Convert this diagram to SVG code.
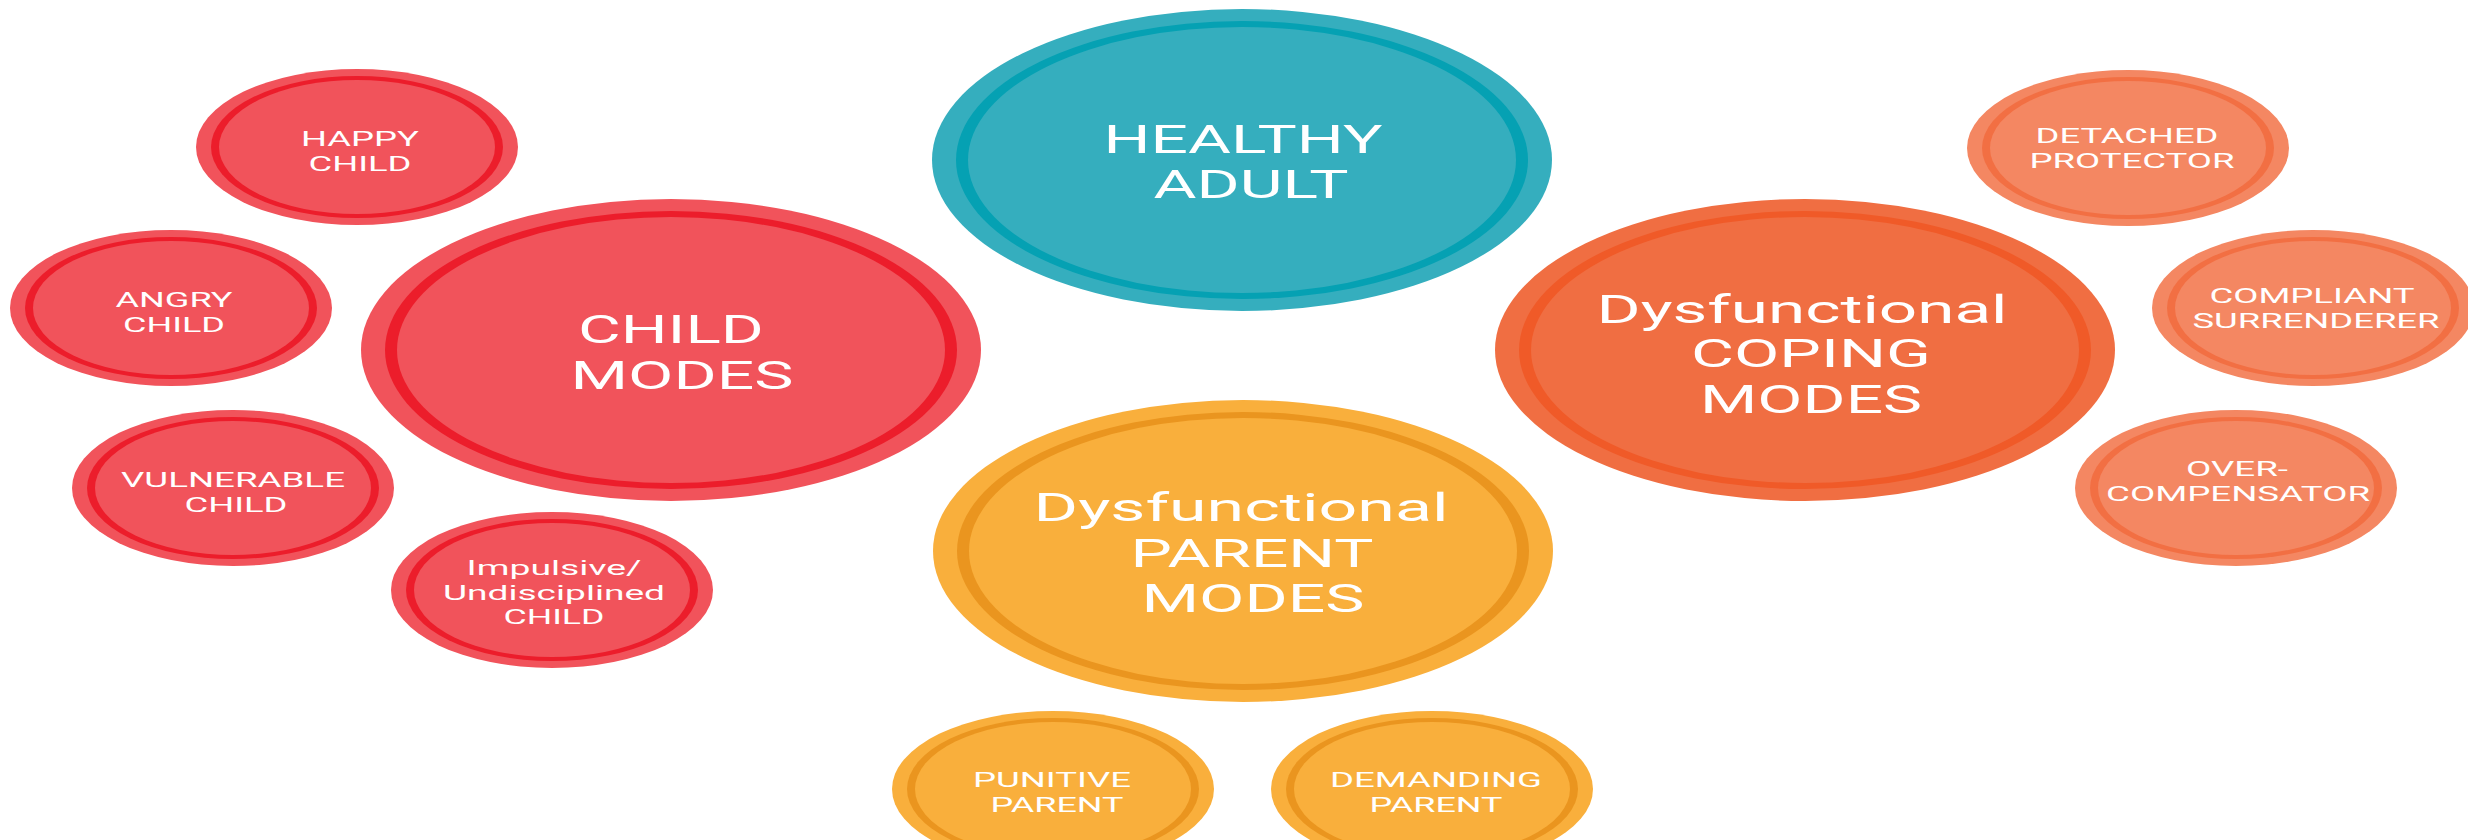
<svg xmlns="http://www.w3.org/2000/svg" width="2468" height="840" viewBox="0 0 2468 840">
  <style>
    .bg { fill: #ffffff; }
    /* each bubble: outer disc, darker ring, inner disc */
    .teal .o, .teal .i { fill: #35aebe; }
    .teal .r { fill: #05a1b3; }
    .red .o, .red .i { fill: #f1535b; }
    .red .r { fill: #ec1d2b; }
    .yel .o, .yel .i { fill: #f9af3c; }
    .yel .r { fill: #ea951f; }
    .org .o, .org .i { fill: #f06e42; }
    .org .r { fill: #f05a28; }
    .lor .o, .lor .i { fill: #f48762; }
    .lor .r { fill: #f26f43; }
    text { fill: #ffffff; font-family: Roboto, "Liberation Sans", Arial, sans-serif; text-anchor: middle; }
    .big { font-size: 38px; }
    .sm { font-size: 21px; }
  </style>

  <rect class="bg" x="0" y="0" width="2468" height="840"/>

  <!-- main mode bubbles -->
  <g id="healthy-adult" class="teal">
    <ellipse class="o" cx="1242" cy="160" rx="310" ry="151"/>
    <ellipse class="r" cx="1242" cy="160" rx="286" ry="139"/>
    <ellipse class="i" cx="1242" cy="160" rx="274" ry="133"/>
    <text class="big" x="1243" y="153" textLength="279" lengthAdjust="spacingAndGlyphs">HEALTHY</text>
    <text class="big" x="1251" y="198" textLength="195" lengthAdjust="spacingAndGlyphs">ADULT</text>
  </g>

  <g id="child-modes" class="red">
    <ellipse class="o" cx="671" cy="350" rx="310" ry="151"/>
    <ellipse class="r" cx="671" cy="350" rx="286" ry="139"/>
    <ellipse class="i" cx="671" cy="350" rx="274" ry="133"/>
    <text class="big" x="671" y="343" textLength="186" lengthAdjust="spacingAndGlyphs">CHILD</text>
    <text class="big" x="682" y="389" textLength="223" lengthAdjust="spacingAndGlyphs">MODES</text>
  </g>

  <g id="parent-modes" class="yel">
    <ellipse class="o" cx="1243" cy="551" rx="310" ry="151"/>
    <ellipse class="r" cx="1243" cy="551" rx="286" ry="139"/>
    <ellipse class="i" cx="1243" cy="551" rx="274" ry="133"/>
    <text class="big" x="1241" y="521" textLength="415" lengthAdjust="spacingAndGlyphs">Dysfunctional</text>
    <text class="big" x="1252" y="567" textLength="243" lengthAdjust="spacingAndGlyphs">PARENT</text>
    <text class="big" x="1253" y="612" textLength="223" lengthAdjust="spacingAndGlyphs">MODES</text>
  </g>

  <g id="coping-modes" class="org">
    <ellipse class="o" cx="1805" cy="350" rx="310" ry="151"/>
    <ellipse class="r" cx="1805" cy="350" rx="286" ry="139"/>
    <ellipse class="i" cx="1805" cy="350" rx="274" ry="133"/>
    <text class="big" x="1802" y="323" textLength="411" lengthAdjust="spacingAndGlyphs">Dysfunctional</text>
    <text class="big" x="1811" y="367" textLength="240" lengthAdjust="spacingAndGlyphs">COPING</text>
    <text class="big" x="1811" y="413" textLength="222" lengthAdjust="spacingAndGlyphs">MODES</text>
  </g>

  <!-- child sub-modes -->
  <g id="happy-child" class="red">
    <ellipse class="o" cx="357" cy="147" rx="161" ry="78"/>
    <ellipse class="r" cx="357" cy="147" rx="146" ry="71"/>
    <ellipse class="i" cx="357" cy="147" rx="138" ry="67"/>
    <text class="sm" x="360" y="146" textLength="118" lengthAdjust="spacingAndGlyphs">HAPPY</text>
    <text class="sm" x="360" y="171" textLength="103" lengthAdjust="spacingAndGlyphs">CHILD</text>
  </g>

  <g id="angry-child" class="red">
    <ellipse class="o" cx="171" cy="308" rx="161" ry="78"/>
    <ellipse class="r" cx="171" cy="308" rx="146" ry="71"/>
    <ellipse class="i" cx="171" cy="308" rx="138" ry="67"/>
    <text class="sm" x="174" y="307" textLength="117" lengthAdjust="spacingAndGlyphs">ANGRY</text>
    <text class="sm" x="174" y="332" textLength="102" lengthAdjust="spacingAndGlyphs">CHILD</text>
  </g>

  <g id="vulnerable-child" class="red">
    <ellipse class="o" cx="233" cy="488" rx="161" ry="78"/>
    <ellipse class="r" cx="233" cy="488" rx="146" ry="71"/>
    <ellipse class="i" cx="233" cy="488" rx="138" ry="67"/>
    <text class="sm" x="233" y="487" textLength="224" lengthAdjust="spacingAndGlyphs">VULNERABLE</text>
    <text class="sm" x="236" y="512" textLength="103" lengthAdjust="spacingAndGlyphs">CHILD</text>
  </g>

  <g id="impulsive-child" class="red">
    <ellipse class="o" cx="552" cy="590" rx="161" ry="78"/>
    <ellipse class="r" cx="552" cy="590" rx="146" ry="71"/>
    <ellipse class="i" cx="552" cy="590" rx="138" ry="67"/>
    <text class="sm" x="554" y="575" textLength="175" lengthAdjust="spacingAndGlyphs">Impulsive/</text>
    <text class="sm" x="554" y="600" textLength="222" lengthAdjust="spacingAndGlyphs">Undisciplined</text>
    <text class="sm" x="554" y="624" textLength="101" lengthAdjust="spacingAndGlyphs">CHILD</text>
  </g>

  <!-- parent sub-modes -->
  <g id="punitive-parent" class="yel">
    <ellipse class="o" cx="1053" cy="789" rx="161" ry="78"/>
    <ellipse class="r" cx="1053" cy="789" rx="146" ry="71"/>
    <ellipse class="i" cx="1053" cy="789" rx="138" ry="67"/>
    <text class="sm" x="1052" y="787" textLength="158" lengthAdjust="spacingAndGlyphs">PUNITIVE</text>
    <text class="sm" x="1057" y="812" textLength="133" lengthAdjust="spacingAndGlyphs">PARENT</text>
  </g>

  <g id="demanding-parent" class="yel">
    <ellipse class="o" cx="1432" cy="789" rx="161" ry="78"/>
    <ellipse class="r" cx="1432" cy="789" rx="146" ry="71"/>
    <ellipse class="i" cx="1432" cy="789" rx="138" ry="67"/>
    <text class="sm" x="1436" y="787" textLength="212" lengthAdjust="spacingAndGlyphs">DEMANDING</text>
    <text class="sm" x="1436" y="812" textLength="133" lengthAdjust="spacingAndGlyphs">PARENT</text>
  </g>

  <!-- coping sub-modes -->
  <g id="detached-protector" class="lor">
    <ellipse class="o" cx="2128" cy="148" rx="161" ry="78"/>
    <ellipse class="r" cx="2128" cy="148" rx="146" ry="71"/>
    <ellipse class="i" cx="2128" cy="148" rx="138" ry="67"/>
    <text class="sm" x="2127" y="143" textLength="183" lengthAdjust="spacingAndGlyphs">DETACHED</text>
    <text class="sm" x="2132" y="168" textLength="205" lengthAdjust="spacingAndGlyphs">PROTECTOR</text>
  </g>

  <g id="compliant-surrenderer" class="lor">
    <ellipse class="o" cx="2313" cy="308" rx="161" ry="78"/>
    <ellipse class="r" cx="2313" cy="308" rx="146" ry="71"/>
    <ellipse class="i" cx="2313" cy="308" rx="138" ry="67"/>
    <text class="sm" x="2312" y="303" textLength="205" lengthAdjust="spacingAndGlyphs">COMPLIANT</text>
    <text class="sm" x="2316" y="328" textLength="247" lengthAdjust="spacingAndGlyphs">SURRENDERER</text>
  </g>

  <g id="overcompensator" class="lor">
    <ellipse class="o" cx="2236" cy="488" rx="161" ry="78"/>
    <ellipse class="r" cx="2236" cy="488" rx="146" ry="71"/>
    <ellipse class="i" cx="2236" cy="488" rx="138" ry="67"/>
    <text class="sm" x="2237" y="476" textLength="102" lengthAdjust="spacingAndGlyphs">OVER-</text>
    <text class="sm" x="2238" y="501" textLength="264" lengthAdjust="spacingAndGlyphs">COMPENSATOR</text>
  </g>
</svg>
